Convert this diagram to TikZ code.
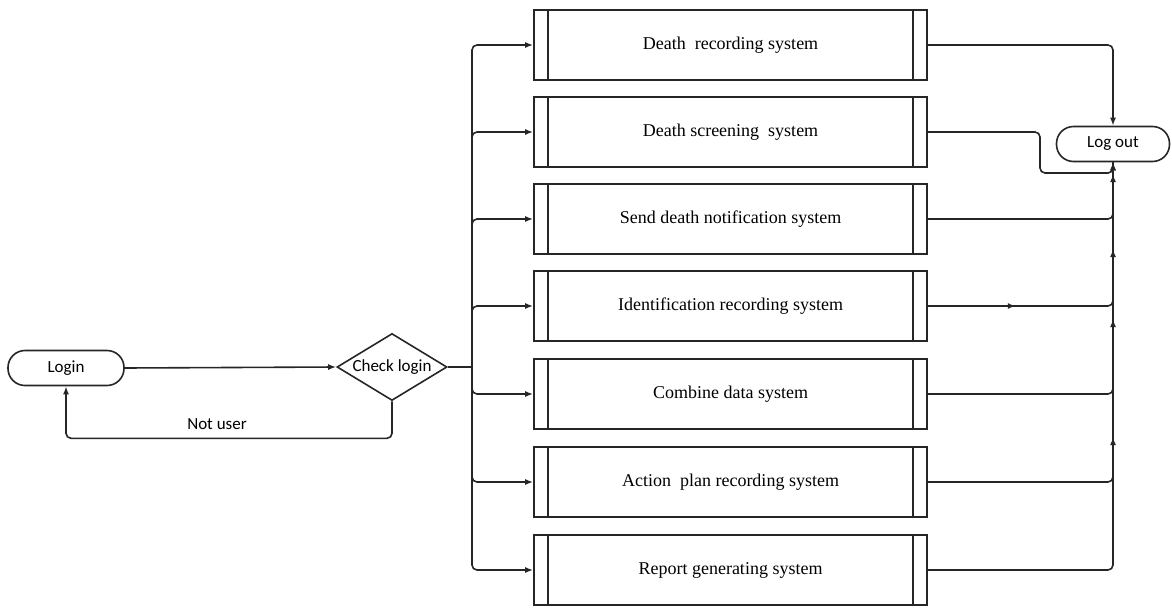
\documentclass[tikz,border=0pt]{standalone}
\usepackage{fontspec}
\setmainfont{Liberation Serif}
\newfontfamily\calib{Carlito}
\usetikzlibrary{shapes.geometric,arrows.meta,decorations.markings}
\begin{document}
\begin{tikzpicture}[x=1pt,y=-1pt,
  line/.style={draw=black!85,line width=1.6pt},
  arr/.style={line,-{Latex[length=8pt,width=6pt]}},
  proc/.style={line,rectangle,minimum width=393pt,minimum height=70pt,inner sep=0pt,
    font=\fontsize{18}{21}\selectfont,
    path picture={\draw[black!85,line width=1.6pt]
      ([xshift=14pt]path picture bounding box.north west) -- ([xshift=14pt]path picture bounding box.south west)
      ([xshift=-14pt]path picture bounding box.north east) -- ([xshift=-14pt]path picture bounding box.south east);}},
  term/.style={line,rectangle,rounded corners=17pt,minimum height=35pt,inner sep=0pt,
    font=\calib\fontsize{17}{20}\selectfont},
  chkbox/.style={line,diamond,aspect=1.64,inner sep=0pt,minimum width=110pt,minimum height=67pt,
    font=\calib\fontsize{17}{20}\selectfont},
  bus/.style={line,rounded corners=5pt},
  midarr/.style={postaction={decorate},decoration={markings,#1}}
]
\useasboundingbox (0,0) rectangle (1172,608);

\node[term,minimum width=116pt] (login) at (66,368) {Login};
\node[chkbox] (chk) at (392,367) {Check login};
\node[term,minimum width=113pt] (lo) at (1113,144) {Log out};
\node[font=\calib\fontsize{17}{20}\selectfont] (nu) at (217,424) {Not user};

\node[proc] (b1) at (730.5,45) {Death\ \ recording system};
\node[proc] (b2) at (730.5,132) {Death screening\ \ system};
\node[proc] (b3) at (730.5,219) {Send death notification system};
\node[proc] (b4) at (730.5,306) {Identification recording system};
\node[proc] (b5) at (730.5,394) {Combine data system};
\node[proc] (b6) at (730.5,482) {Action\ \ plan recording system};
\node[proc] (b7) at (730.5,570) {Report generating system};

\coordinate (trunk) at (472,367);
\coordinate (j2) at (1040,173);

\draw[arr] (login.east) -- (chk.west);
\draw[arr,rounded corners=5pt] (chk.south) -- ++(0,37) -| (login.south);

\draw[line] (chk.east) -- (trunk);
\foreach \b in {b1,b2,b3,b4,b5,b6,b7}
  \draw[arr,rounded corners=5pt] (trunk) |- (\b.west);

\draw[arr,rounded corners=5pt] (b1.east) -| (lo.north);
\draw[arr,rounded corners=5pt] (b2.east) -| (j2) -| (lo.south);
\draw[bus] (b3.east) -| (lo.south);
\draw[bus,midarr={mark=at position 88pt with {\arrow{Latex[length=8pt,width=6pt]}}}] (b4.east) -| (lo.south);
\draw[bus] (b5.east) -| (lo.south);
\draw[bus] (b6.east) -| (lo.south);
\draw[arr,rounded corners=5pt,midarr={mark=at position 316pt with {\arrow{Latex[length=8pt,width=6pt]}},
  mark=at position 434pt with {\arrow{Latex[length=8pt,width=6pt]}},
  mark=at position 504pt with {\arrow{Latex[length=8pt,width=6pt]}},
  mark=at position 579pt with {\arrow{Latex[length=8pt,width=6pt]}}}] (b7.east) -| (lo.south);
\end{tikzpicture}
\end{document}
